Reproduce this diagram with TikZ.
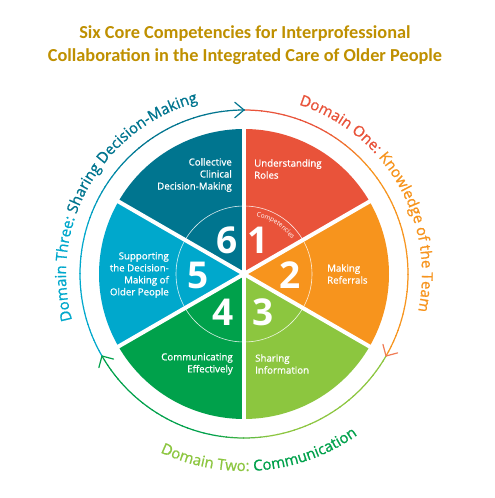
\documentclass[tikz,border=0pt]{standalone}
\usepackage{fontspec}
\usetikzlibrary{decorations.text,calc}
\newfontfamily\df{Open Sans}[FakeBold=0.9]
\newfontfamily\dn{Open Sans}
\newfontfamily\tf{Carlito}
\definecolor{cRed}{HTML}{E9533A}
\definecolor{cOrange}{HTML}{F7941D}
\definecolor{cLGreen}{HTML}{8CC63F}
\definecolor{cGreen}{HTML}{00A14B}
\definecolor{cLBlue}{HTML}{00A8CC}
\definecolor{cTeal}{HTML}{00758F}
\definecolor{cGold}{HTML}{BF9000}
\definecolor{cSalmon}{HTML}{F07C55}
\begin{document}
\begin{tikzpicture}[x=1pt,y=1pt,
  sectxt/.style={text=white, font=\df\fontsize{9.7}{12}\selectfont, inner sep=0pt},
  numtxt/.style={text=white, font=\dn\bfseries\fontsize{37}{37}\selectfont, inner sep=0pt},
  gapline/.style={white, line width=4pt},
  ringline/.style={line width=1.2pt},
  ahead/.style={line width=1.2pt, line cap=round, line join=round}]
\useasboundingbox (0,0) rectangle (495,498);
\fill[white] (0,0) rectangle (495,498);
\coordinate (O) at (244,224);
% title
\node[font=\tf\bfseries\fontsize{18.3}{23}\selectfont, text=cGold, align=center] (title) at (245,452.5)
  {Six Core Competencies for Interprofessional\\Collaboration in the Integrated Care of Older People};
% sectors
\foreach \s/\c in {90/cRed, 30/cOrange, -30/cLGreen, -90/cGreen, -150/cLBlue, 150/cTeal}
  \fill[\c] (O) -- ++(\s:145) arc[start angle=\s, end angle=\s-60, radius=145] -- cycle;
\foreach \a in {90,30,-30,-90,-150,150}
  \draw[gapline] (O) -- ($(O)+(\a:150)$);
\draw[white, line width=0.6pt, opacity=0.85] (O) circle[radius=68];
% ring: Domain One (90 -> -30)
\foreach \a in {90,88,...,-28} {
  \pgfmathsetmacro\p{min(100,max(0,(62-\a)*5))}
  \colorlet{rc}{cOrange!\p!cRed}
  \draw[ringline, rc] (O) ++(\a:164) arc[start angle=\a, end angle=\a-2.3, radius=164];
}
% ring: Domain Two (-30 -> -150)
\foreach \a in {-30,-32,...,-148} {
  \pgfmathsetmacro\p{min(100,max(0,(-80-\a)*5))}
  \colorlet{rc}{cGreen!\p!cLGreen}
  \draw[ringline, rc] (O) ++(\a:164) arc[start angle=\a, end angle=\a-2.3, radius=164];
}
% ring: Domain Three (210 -> 90)
\foreach \a in {210,208,...,92} {
  \pgfmathsetmacro\p{min(100,max(0,(165-\a)*100/35))}
  \colorlet{rc}{cTeal!\p!cLBlue}
  \draw[ringline, rc] (O) ++(\a:164) arc[start angle=\a, end angle=\a-2.3, radius=164];
}
% arrowheads
\coordinate (tipA) at ($(O)+(90:164)$);
\coordinate (tipB) at ($(O)+(-30:164)$);
\coordinate (tipC) at ($(O)+(-150:164)$);
\draw[ahead, cTeal] (tipA) ++(180+40:12) -- (tipA) -- ++(180-40:12);
\draw[ahead, cSalmon] (tipB) ++(60+45:12) -- (tipB) -- ++(60-45:12);
\draw[ahead, cGreen] (tipC) ++(-60+45:12) -- (tipC) -- ++(-60-45:12);
% domain texts
\path[decorate, decoration={text along path, text align=center,
  text={|\df\fontsize{15}{15}\selectfont\color{cRed}|Domain One: |\df\fontsize{15}{15}\selectfont\color{cOrange}|Knowledge of the Team}}]
  (O) ++(110:178) arc[start angle=110, end angle=-50, radius=178];
\path[decorate, decoration={text along path, text align=center,
  text={|\df\fontsize{15}{15}\selectfont\color{cLBlue}|Domain Three: |\df\fontsize{15}{15}\selectfont\color{cTeal}|Sharing Decision-Making}}]
  (O) ++(235:178) arc[start angle=235, end angle=65, radius=178];
\path[decorate, decoration={text along path, text align=center,
  text={|\df\fontsize{15}{15}\selectfont\color{cLGreen}|Domain Two: |\df\fontsize{15}{15}\selectfont\color{cGreen}|Communication}}]
  (O) ++(215:197) arc[start angle=215, end angle=335, radius=197];
\path[decorate, decoration={text along path, text align=center,
  text={|\dn\fontsize{6.5}{6.5}\selectfont\color{white}|Competencies}}]
  (O) ++(100:59) arc[start angle=100, end angle=14, radius=59];
% sector labels
\node[sectxt, anchor=east, align=right] (t6) at (232,323) {Collective\\Clinical\\Decision-Making};
\node[sectxt, anchor=west, align=left] (t1) at (254,329) {Understanding\\Roles};
\node[sectxt, anchor=west, align=left] (t2) at (327,224) {Making\\Referrals};
\node[sectxt, anchor=west, align=left] (t3) at (255,134) {Sharing\\Information};
\node[sectxt, anchor=east, align=right] (t4) at (233,134) {Communicating\\Effectively};
\node[sectxt, anchor=east, align=right] (t5) at (169,223) {Supporting\\the Decision-\\Making of\\Older People};
% numbers
\node[numtxt] (n6) at (227,258) {6};
\node[numtxt] (n1) at (258,258) {1};
\node[numtxt] (n2) at (290,223) {2};
\node[numtxt] (n3) at (263,186) {3};
\node[numtxt] (n4) at (223,186) {4};
\node[numtxt] (n5) at (198,223) {5};
\end{tikzpicture}
\end{document}
